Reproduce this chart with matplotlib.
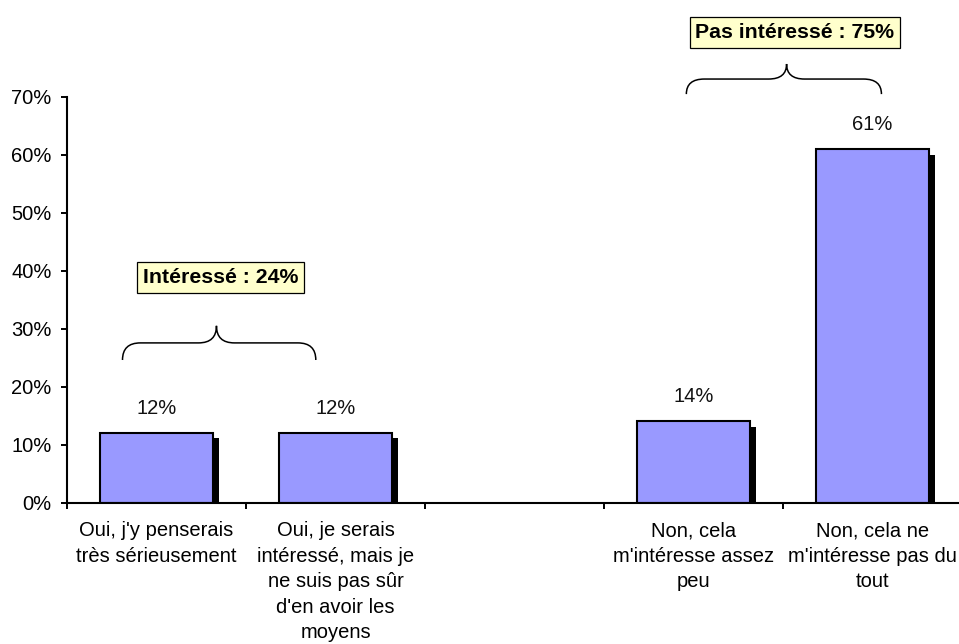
import numpy as np
import matplotlib
matplotlib.use("Agg")
import matplotlib.pyplot as plt
from matplotlib.path import Path
from matplotlib.patches import PathPatch
from matplotlib import transforms

plt.rcParams['font.family'] = ['Liberation Sans', 'DejaVu Sans']

categories = ["Oui, j'y penserais\ntrès sérieusement",
              "Oui, je serais\nintéressé, mais je\nne suis pas sûr\nd'en avoir les\nmoyens",
              "",
              "Non, cela\nm'intéresse assez\npeu",
              "Non, cela ne\nm'intéresse pas du\ntout"]
values = [12, 12, np.nan, 14, 61]
value_labels = ["12%", "12%", "", "14%", "61%"]
y_ticks = [0, 10, 20, 30, 40, 50, 60, 70]
y_tick_labels = ["0%", "10%", "20%", "30%", "40%", "50%", "60%", "70%"]
groups = ["Intéressé : 24%", "Pas intéressé : 75%"]

W, H = 959, 644
fig = plt.figure(figsize=(W / 100, H / 100), dpi=100)
left, right, bottom, top = 67, 962, 502.5, 97
ax = fig.add_axes([left / W, (H - bottom) / H, (right - left) / W, (bottom - top) / H])

FS = 14.5
x = np.arange(len(categories))
bw = 0.626
shadow = transforms.offset_copy(ax.transData, fig=fig, x=6, y=-5.5, units='dots')
for xi, v in zip(x, values):
    if np.isnan(v):
        continue
    ax.bar(xi, v, width=bw, color='black', edgecolor='black', linewidth=0,
           transform=shadow, zorder=1, clip_on=True)
ax.bar(x, values, width=bw, color='#9999FF', edgecolor='black', linewidth=1.5, zorder=2)
ax.set_ylim(0, 70)
ax.set_xlim(-0.5, len(categories) - 0.5)

for xi, v, lab in zip(x, values, value_labels):
    if np.isnan(v):
        continue
    ax.annotate(lab, (xi, v), xytext=(0, 11), textcoords='offset points',
                ha='center', va='bottom', fontsize=FS, color='#111111')

ax.set_yticks(y_ticks)
ax.set_yticklabels(y_tick_labels, fontsize=FS)
ax.set_xticks(x)
ax.set_xticklabels(categories, fontsize=FS, linespacing=1.43, va='top')
ax.set_xticks(np.arange(-0.5, len(categories) + 0.5, 1), minor=True)
ax.tick_params(axis='x', which='major', length=0, pad=13.5)
ax.tick_params(axis='x', which='minor', length=4.5, width=1.4, direction='out')
ax.tick_params(axis='y', length=4.5, width=1.4, direction='out', pad=6.5)
for s in ['top', 'right']:
    ax.spines[s].set_visible(False)
for s in ['left', 'bottom']:
    ax.spines[s].set_linewidth(1.5)


def brace(ax, x0, x1, xm, yb, yt):
    ymid = (yb + yt) / 2
    dx = 0.1
    verts = [(x0, yb), (x0, ymid), (x0 + dx, ymid),
             (xm - dx, ymid),
             (xm, ymid), (xm, yt),
             (xm, ymid), (xm + dx, ymid),
             (x1 - dx, ymid),
             (x1, ymid), (x1, yb)]
    codes = [Path.MOVETO, Path.CURVE3, Path.CURVE3,
             Path.LINETO,
             Path.CURVE3, Path.CURVE3,
             Path.CURVE3, Path.CURVE3,
             Path.LINETO,
             Path.CURVE3, Path.CURVE3]
    ax.add_patch(PathPatch(Path(verts, codes), fill=False, lw=1.1, color='black', clip_on=False))


brace_geom = [(-0.19, 0.89, 0.335, 24.6, 30.5), (2.96, 4.05, 3.52, 70.5, 75.7)]
box_pos = [(0.358, 38.8), (3.567, 81.1)]
for g, (bx0, bx1, bxm, yb, yt), (tx, ty) in zip(groups, brace_geom, box_pos):
    brace(ax, bx0, bx1, bxm, yb, yt)
    ax.text(tx, ty, g, ha='center', va='center', fontsize=15.3, fontweight='bold',
            clip_on=False,
            bbox=dict(boxstyle='square,pad=0.28', facecolor='#FFFFCC', edgecolor='black', lw=0.9))

fig.savefig('out.png', dpi=100)
